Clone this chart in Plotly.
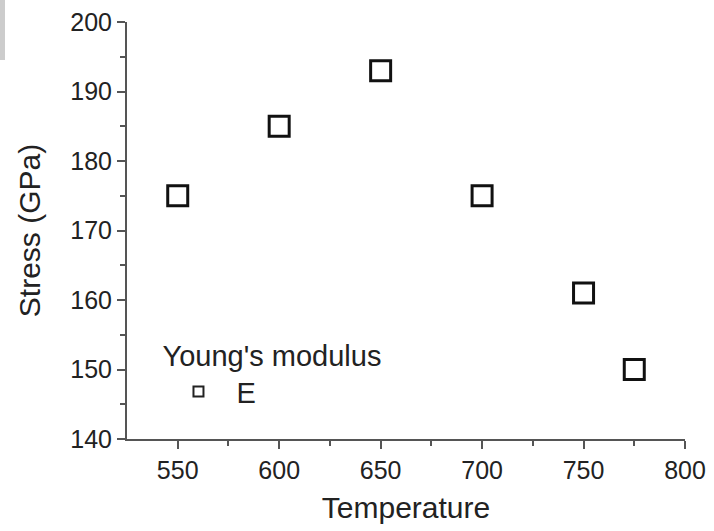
import plotly.graph_objects as go

temperature = [550, 600, 650, 700, 750, 775]
stress = [175, 185, 193, 175, 161, 150]
series_name = "E"
legend_title = "Young's modulus"
x_title = "Temperature"
y_title = "Stress (GPa)"
x_ticks = [550, 600, 650, 700, 750, 800]
y_ticks = [140, 150, 160, 170, 180, 190, 200]

FONT = "Liberation Sans, Arial"
fig = go.Figure()
fig.add_trace(go.Scatter(
    x=temperature, y=stress, mode="markers", showlegend=False,
    marker=dict(symbol="square-open", size=20, color="#111111", line=dict(width=3, color="#111111")),
))
fig.add_trace(go.Scatter(
    x=[None], y=[None], mode="markers", name=series_name,
    marker=dict(symbol="square-open", size=10, color="#222222", line=dict(width=2, color="#222222")),
))

axis_common = dict(
    showline=True, linecolor="#555555", linewidth=2, mirror=False,
    ticks="outside", ticklen=8, tickwidth=2, tickcolor="#555555",
    showgrid=False, zeroline=False, automargin=False,
    tickfont=dict(family=FONT, size=25, color="#222222"),
    title_font=dict(family=FONT, size=30, color="#222222"),
)

fig.update_layout(
    width=714, height=531,
    margin=dict(l=127, r=29, t=22, b=92),
    paper_bgcolor="white", plot_bgcolor="white",
    xaxis=dict(range=[525, 800], tickmode="array", tickvals=x_ticks,
               minor=dict(tickvals=[575, 625, 675, 725, 775], ticks="outside", ticklen=5, tickwidth=2, tickcolor="#555555"),
               title=dict(text=x_title, standoff=14), **axis_common),
    yaxis=dict(range=[140, 200], tickmode="array", tickvals=y_ticks,
               minor=dict(tickvals=[145, 155, 165, 175, 185, 195], ticks="outside", ticklen=5, tickwidth=2, tickcolor="#555555"),
               title=dict(text=y_title, standoff=21), **axis_common),
    legend=dict(x=0.06, y=0.265, xanchor="left", yanchor="top", bgcolor="rgba(0,0,0,0)",
                itemwidth=66, tracegroupgap=0,
                title=dict(text=legend_title, font=dict(family=FONT, size=29, color="#222222"), side="top"),
                font=dict(family=FONT, size=29, color="#222222")),
    shapes=[dict(type="rect", xref="paper", yref="paper", x0=-127/558, x1=-122/558, y0=(439-60)/417, y1=439/417,
                 fillcolor="#cccccc", line=dict(width=0), layer="below")],
)

fig.write_html("out.html")
